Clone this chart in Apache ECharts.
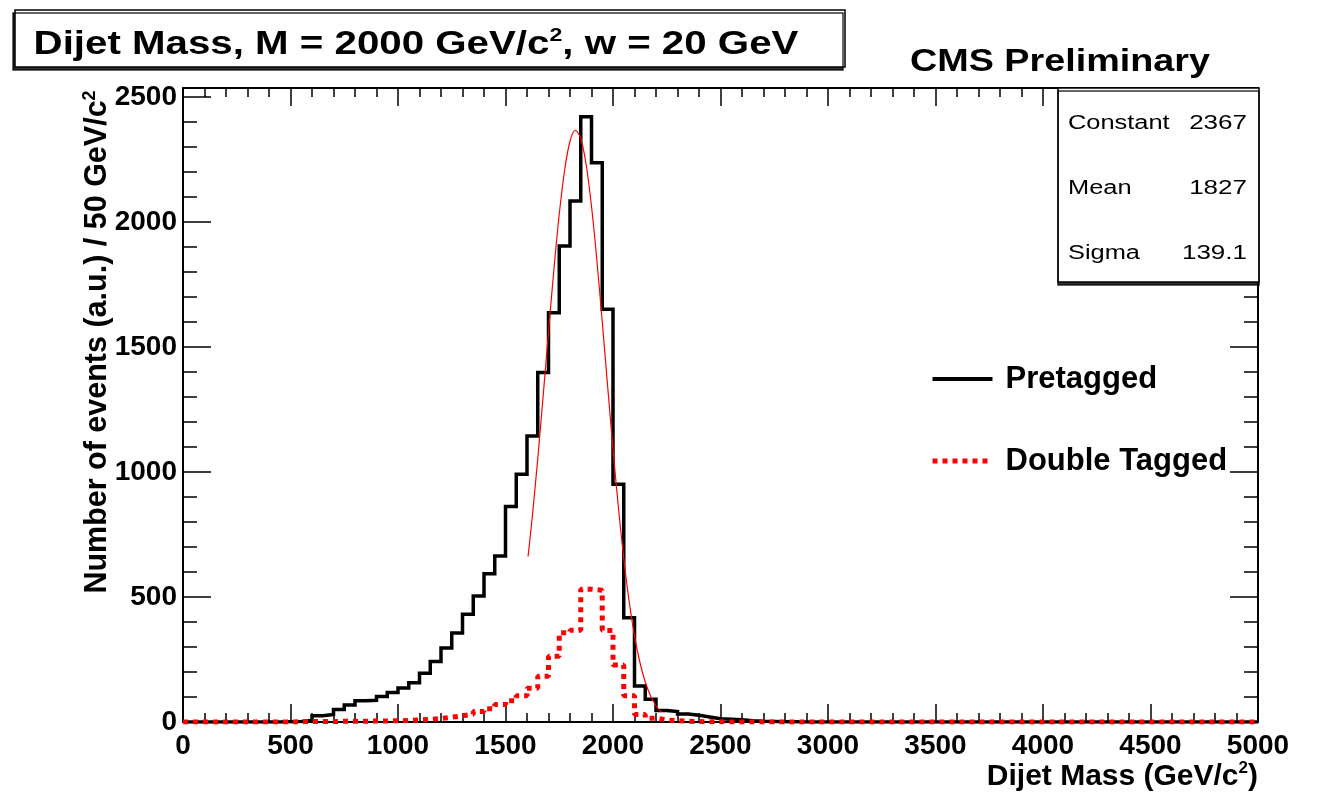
<!DOCTYPE html>
<html><head><meta charset="utf-8">
<script src="https://cdn.jsdelivr.net/npm/echarts@6/dist/echarts.min.js"></script>
<style>html,body{margin:0;padding:0;background:#fff}#c{width:1317px;height:797px}</style>
</head><body><div id="c"></div>
<script>
// ---- data ----
const BIN_WIDTH = 50;          // GeV per bin, x from 0 to 5000
const X_MAX = 5000;
const Y_MAX = 2536;
const pretagged = [
  0,0,0,0,0,0,0,0,0,1,
  2,6,25,30,50,68,85,87,102,118,
  136,157,195,242,296,356,431,504,593,664,
  862,991,1144,1398,1637,1904,2084,2421,2237,1651,
  951,417,144,91,46,42,32,27,20,13,
  11,9,5,3,2,1,1,0,0,0,
  0,0,0,0,0,0,0,0,0,0,
  0,0,0,0,0,0,0,0,0,0,
  0,0,0,0,0,0,0,0,0,0,
  0,0,0,0,0,0,0,0,0,0
];
const doubleTagged = [
  0,0,0,0,0,0,0,0,0,0,
  1,2,2,2,3,3,3,4,4,5,
  6,8,10,14,19,25,31,42,53,70,
  85,105,135,183,263,357,367,531,527,366,
  228,105,30,15,8,5,3,2,1,1,
  0,0,0,0,0,0,0,0,0,0,
  0,0,0,0,0,0,0,0,0,0,
  0,0,0,0,0,0,0,0,0,0,
  0,0,0,0,0,0,0,0,0,0,
  0,0,0,0,0,0,0,0,0,0
];
const fitX = [1605,1625,1650,1675,1700,1725,1750,1775,1800,1825,1850,1875,1900,1925,1950,1975,2000,2025,2050,2075,2100,2125,2150,2175,2200,2225];
const fitY = [662,825,1053,1303,1560,1809,2031,2207,2323,2367,2335,2230,2063,1847,1601,1344,1092,859,655,483,345,239,160,104,65,39];
const seriesNames = ['Pretagged', 'Double Tagged'];
const statNames = ['Constant', 'Mean', 'Sigma'];
const statValues = ['2367', '1827', '139.1'];
const titleParts = ['Dijet Mass, M = 2000 GeV/c', '2', ', w = 20 GeV'];
const yTitleParts = ['Number of events (a.u.) / 50 GeV/c', '2'];
const xTitleParts = ['Dijet Mass (GeV/c', '2', ')'];
const cmsLabel = 'CMS Preliminary';

// ---- build ----
const FONT = '"Liberation Sans", Arial, Helvetica, sans-serif';
function histPoints(vals) {
  const pts = vals.map((v, i) => [i * BIN_WIDTH, v]);
  pts.push([vals.length * BIN_WIDTH, vals[vals.length - 1]]);
  return pts;
}
const fitData = fitX.map((x, i) => [x, fitY[i]]);

const tickLine = { color: '#000', width: 1.5 };
function xAx(pos, labels) {
  return {
    type: 'value', position: pos, min: 0, max: X_MAX, interval: 500,
    axisLine: { show: true, onZero: false, lineStyle: { color: '#000', width: 2 } },
    axisTick: { show: true, inside: true, length: 18, lineStyle: tickLine },
    minorTick: { show: true, splitNumber: 5, length: 9, lineStyle: tickLine },
    axisLabel: labels ? { show: true, color: '#000', fontSize: 28, fontWeight: 'bold', fontFamily: FONT, margin: 10, formatter: v => String(v) } : { show: false },
    splitLine: { show: false }, minorSplitLine: { show: false }
  };
}
function yAx(pos, interval, len, labels, line) {
  return {
    type: 'value', position: pos, min: 0, max: Y_MAX, interval: interval,
    axisLine: { show: line, onZero: false, lineStyle: { color: '#000', width: 2 } },
    axisTick: { show: true, inside: true, length: len, lineStyle: tickLine },
    axisLabel: labels ? { show: true, color: '#000', fontSize: 28, fontWeight: 'bold', fontFamily: FONT, margin: 6, showMaxLabel: false, formatter: v => String(v) } : { show: false },
    splitLine: { show: false }
  };
}

function txt(x, y, text, font, align, vAlign, scaleX) {
  return {
    type: 'text', x: x, y: y, scaleX: scaleX || 1, z: 100,
    style: { text: text, font: font, fill: '#000', align: align, textAlign: align, verticalAlign: vAlign, textVerticalAlign: vAlign }
  };
}
function richTxt(x, y, text, size, supSize, align, scaleX, rotation) {
  return {
    type: 'text', x: x, y: y, scaleX: scaleX || 1, rotation: rotation || 0, z: 100,
    style: {
      text: text, align: align, textAlign: align, verticalAlign: 'middle', textVerticalAlign: 'middle',
      fill: '#000',
      rich: {
        a: { font: 'bold ' + size + 'px ' + FONT, fill: '#000', lineHeight: size + 4 },
        s: { font: 'bold ' + supSize + 'px ' + FONT, fill: '#000', verticalAlign: 'top' }
      }
    }
  };
}

const graphics = [
  { type: 'rect', z: 90, shape: { x: 15, y: 10, width: 830, height: 57 },
    style: { fill: '#fff', stroke: '#000', lineWidth: 1.5, shadowColor: 'rgba(0,0,0,0.8)', shadowOffsetX: -2, shadowOffsetY: 3, shadowBlur: 0 } },
  richTxt(416, 45, '{a|' + titleParts[0] + '}{s|' + titleParts[1] + '}{a|' + titleParts[2] + '}', 33, 19, 'center', 1.22),
  txt(1060, 62, cmsLabel, 'bold 32px ' + FONT, 'center', 'middle', 1.18),
  { type: 'rect', z: 90, shape: { x: 1058, y: 88, width: 201, height: 194 },
    style: { fill: '#fff', stroke: '#000', lineWidth: 1.5, shadowColor: 'rgba(0,0,0,0.8)', shadowOffsetX: 0, shadowOffsetY: 3, shadowBlur: 0 } },
  richTxt(98, 342, '{a|' + yTitleParts[0] + '}{s|' + yTitleParts[1] + '}', 30.5, 18, 'center', 1, Math.PI / 2),
  richTxt(1258, 777, '{a|' + xTitleParts[0] + '}{s|' + xTitleParts[1] + '}{a|' + xTitleParts[2] + '}', 30, 17, 'right', 1)
];
const statY = [123, 188, 253];
statNames.forEach((n, i) => {
  graphics.push(txt(1068, statY[i], n, '20px ' + FONT, 'left', 'middle', 1.27));
  graphics.push(txt(1247, statY[i], statValues[i], '20px ' + FONT, 'right', 'middle', 1.3));
});

const hiddenSymbol = { color: 'rgba(0,0,0,0)', opacity: 0, borderWidth: 0 };
const chart = echarts.init(document.getElementById('c'), null, { renderer: 'canvas' });
chart.setOption({
  animation: false,
  backgroundColor: '#fff',
  grid: { left: 183, right: 59, top: 88, bottom: 75, containLabel: false, outerBoundsMode: 'none' },
  xAxis: [xAx('bottom', true), xAx('top', false)],
  yAxis: [
    yAx('left', 500, 28, true, true),
    yAx('left', 100, 14, false, false),
    yAx('right', 500, 28, false, true),
    yAx('right', 100, 14, false, false)
  ],
  legend: {
    orient: 'vertical', left: 925, top: 358, itemWidth: 60, itemHeight: 14, itemGap: 50,
    selectedMode: false,
    textStyle: { color: '#000', fontSize: 31, fontWeight: 'bold', fontFamily: FONT, lineHeight: 32, padding: [0, 0, 0, 8] },
    data: [
      { name: seriesNames[0], itemStyle: hiddenSymbol, lineStyle: { color: '#000', width: 4, type: 'solid' } },
      { name: seriesNames[1], itemStyle: hiddenSymbol, lineStyle: { color: '#f00', width: 5, type: [5, 5] } }
    ]
  },
  series: [
    { name: seriesNames[0], type: 'line', step: 'end', data: histPoints(pretagged), symbol: 'none', z: 2,
      lineStyle: { color: '#000', width: 3.5, join: 'miter' }, itemStyle: { color: '#000' } },
    { name: 'fit', type: 'line', data: fitData, symbol: 'none', smooth: 0.3, z: 3,
      lineStyle: { color: '#f00', width: 1.2 }, itemStyle: { color: '#f00' } },
    { name: seriesNames[1], type: 'line', step: 'end', data: histPoints(doubleTagged), symbol: 'none', z: 4,
      lineStyle: { color: '#f00', width: 5, type: [5, 5], cap: 'butt' }, itemStyle: { color: '#f00' } }
  ],
  graphic: graphics
});
</script></body></html>
